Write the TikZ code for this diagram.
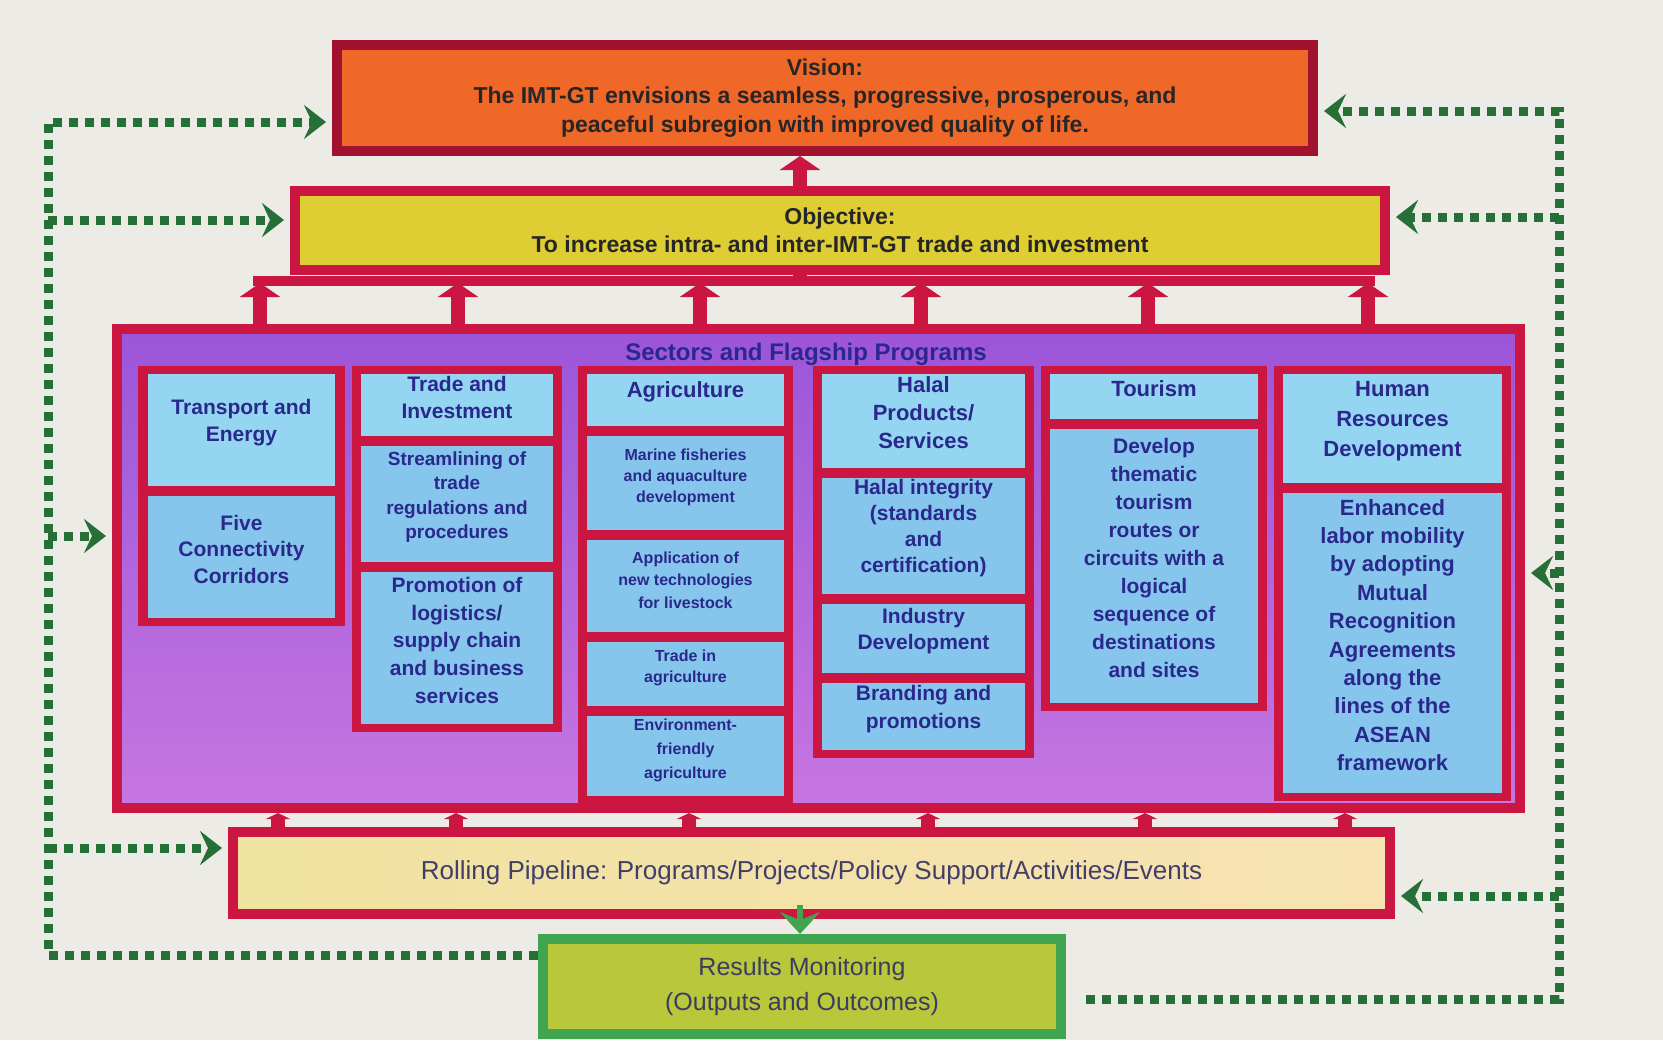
\documentclass[tikz,border=0pt]{standalone}
\usepackage{fontspec}
\setmainfont{Liberation Sans}
\usetikzlibrary{arrows.meta,fit}

\definecolor{crimson}{RGB}{204,22,66}
\definecolor{darkred}{RGB}{160,18,45}
\definecolor{visionorange}{RGB}{240,104,40}
\definecolor{objyellow}{RGB}{222,206,52}
\definecolor{cellblue}{RGB}{148,214,242}
\definecolor{itemblue}{RGB}{134,198,236}
\definecolor{navytext}{RGB}{42,40,140}
\definecolor{loopgreen}{RGB}{38,112,56}
\definecolor{resgreen}{RGB}{64,165,78}
\definecolor{resfill}{RGB}{184,200,58}
\definecolor{pipefill}{RGB}{240,226,160}
\definecolor{pipetext}{RGB}{75,74,124}
\definecolor{bgpaper}{RGB}{236,235,230}
\definecolor{sectortop}{RGB}{155,85,215}
\definecolor{sectorbot}{RGB}{198,118,226}

\begin{document}
\begin{tikzpicture}[x=0.5pt, y=-0.5pt,
    visionbox/.style={rectangle, draw=darkred, line width=5pt, fill=visionorange, minimum width=488pt, minimum height=53pt, align=center, text=black!85, font=\bfseries\fontsize{11.5}{14.3}\selectfont},
    objbox/.style={rectangle, draw=crimson, line width=5pt, fill=objyellow, minimum width=545pt, minimum height=39.5pt, align=center, text=black!85, font=\bfseries\fontsize{11.5}{13.8}\selectfont},
    sectorbox/.style={rectangle, draw=crimson, line width=5pt, top color=sectortop, bottom color=sectorbot, minimum width=701.5pt, minimum height=239.5pt},
    headcell/.style={rectangle, fill=cellblue, inner sep=0pt, align=center, text=navytext, font=\bfseries\fontsize{10.5}{13.3}\selectfont},
    itemcell/.style={rectangle, fill=itemblue, inner sep=0pt, align=center, text=navytext, font=\bfseries\fontsize{10.5}{13.8}\selectfont},
    smallcell/.style={itemcell, font=\bfseries\fontsize{8}{10.6}\selectfont},
    pipebox/.style={rectangle, draw=crimson, line width=5pt, left color=pipefill, right color=pipefill!80!orange!60!white, minimum width=578.5pt, minimum height=41pt, text=pipetext!85!black, font=\fontsize{13}{15}\selectfont},
    resultbox/.style={rectangle, draw=resgreen, line width=5pt, fill=resfill, minimum width=259pt, minimum height=47.5pt, align=center, text=pipetext!80!black, font=\fontsize{12.5}{17.5}\selectfont},
    redarrow/.style={draw=crimson, line width=7pt, -{Triangle[width=20pt,length=7pt]}},
    redbar/.style={draw=crimson, line width=5pt},
    downarrow/.style={draw=resgreen, line width=3pt, -{Stealth[width=20pt,length=11pt,inset=4pt]}, shorten <=-7pt},
    loopline/.style={draw=loopgreen, line width=4.5pt, dash pattern=on 4.5pt off 3.5pt, -{Stealth[length=11pt,width=17pt,inset=4pt]}, shorten >=3pt}
]

\path[use as bounding box, fill=bgpaper] (0,0) rectangle (1663,1040);

% Vision and objective
\node[visionbox] (vision) at (825,98) {Vision:\\The IMT-GT envisions a seamless, progressive, prosperous, and\\peaceful subregion with improved quality of life.};
\node[objbox] (objective) at (840,230.5) {Objective:\\To increase intra- and inter-IMT-GT trade and investment};

% Sectors frame
\node[sectorbox] (sectors) at (818.5,568.5) {};
\node[text=navytext, font=\bfseries\fontsize{12}{14}\selectfont] (sectitle) at (806,354) {Sectors and Flagship Programs};

% column frames
\foreach \xa/\xb/\yb in {138/345/626, 352/562/732, 578/793/804, 813/1034/758, 1041/1267/711, 1274/1511/801} {
    \fill[crimson] (\xa,366) rectangle (\xb,\yb);
}

% Transport
\node[headcell, fit={(148,374) (335,486)}] (c11) {Transport and\\Energy};
\node[itemcell, font=\bfseries\fontsize{10.5}{13.3}\selectfont, fit={(148,496) (335,618)}] (c12) {Five\\Connectivity\\Corridors};

% Trade
\node[headcell, font=\bfseries\fontsize{10.5}{13.5}\selectfont, fit={(361,374) (553,436)}] (c21) {Trade and\\Investment};
\node[itemcell, font=\bfseries\fontsize{9.5}{12.2}\selectfont, fit={(361,446) (553,562)}] (c22) {Streamlining of\\trade\\regulations and\\procedures};
\node[itemcell, fit={(361,572) (553,724)}] (c23) {Promotion of\\logistics/\\supply chain\\and business\\services};

% Agriculture
\node[headcell, font=\bfseries\fontsize{11}{13}\selectfont, fit={(587,374) (784,426)}] (c31) {Agriculture};
\node[smallcell, fit={(587,436) (784,530)}] (c32) {Marine fisheries\\and aquaculture\\development};
\node[smallcell, font=\bfseries\fontsize{8}{11.4}\selectfont, fit={(587,540) (784,632)}] (c33) {Application of\\new technologies\\for livestock};
\node[smallcell, fit={(587,642) (784,706)}] (c34) {Trade in\\agriculture};
\node[smallcell, font=\bfseries\fontsize{8}{12}\selectfont, fit={(587,716) (784,796)}] (c35) {Environment-\\friendly\\agriculture};

% Halal
\node[headcell, font=\bfseries\fontsize{11}{14}\selectfont, fit={(822,374) (1025,468)}] (c41) {Halal\\Products/\\Services};
\node[itemcell, font=\bfseries\fontsize{10.5}{13}\selectfont, fit={(822,478) (1025,594)}] (c42) {Halal integrity\\(standards\\and\\certification)};
\node[itemcell, font=\bfseries\fontsize{10.5}{13.2}\selectfont, fit={(822,604) (1025,673)}] (c43) {Industry\\Development};
\node[itemcell, font=\bfseries\fontsize{10.5}{13.8}\selectfont, fit={(822,683) (1025,750)}] (c44) {Branding and\\promotions};

% Tourism
\node[headcell, font=\bfseries\fontsize{11}{13}\selectfont, fit={(1050,374) (1258,419)}] (c51) {Tourism};
\node[itemcell, font=\bfseries\fontsize{10.5}{14}\selectfont, fit={(1050,429) (1258,703)}] (c52) {Develop\\thematic\\tourism\\routes or\\circuits with a\\logical\\sequence of\\destinations\\and sites};

% Human resources
\node[headcell, font=\bfseries\fontsize{11}{15}\selectfont, fit={(1283,374) (1502,483)}] (c61) {Human\\Resources\\Development};
\node[itemcell, font=\bfseries\fontsize{11}{14.2}\selectfont, fit={(1283,493) (1502,793)}] (c62) {Enhanced\\labor mobility\\by adopting\\Mutual\\Recognition\\Agreements\\along the\\lines of the\\ASEAN\\framework};

% Pipeline and results
\node[pipebox] (pipe) at (811.5,873) {Rolling Pipeline: Programs/Projects/Policy Support/Activities/Events};
\node[resultbox] (results) at (802,986.5) {Results Monitoring\\(Outputs and Outcomes)};

% red connectors at top
\coordinate (barL) at (253,281);
\coordinate (barR) at (1375,281);
\coordinate (barmid) at (800,281);
\draw[redbar] (barL) -- (barR);
\draw[crimson, line width=7pt] (barmid) -- (barmid |- objective.south);
\draw[redarrow] (objective.north -| barmid) -- (vision.south -| barmid);
\foreach \x [count=\i] in {260,458,700,921,1148,1368} {
    \coordinate (u\i) at (\x,283);
    \draw[redarrow] (sectors.north -| u\i) -- (u\i);
}

% red connectors at bottom
\foreach \x [count=\i] in {278,456,689,928,1145,1345} {
    \coordinate (d\i) at (\x,832);
    \draw[redarrow, -{Triangle[width=12pt,length=3pt]}] (pipe.north -| d\i) -- (sectors.south -| d\i);
}
\draw[downarrow] (pipe.south -| barmid) -- (results.north -| barmid);

% feedback loop, left
\coordinate (lb) at (48,955);
\coordinate (lt) at (48,122);
\coordinate (lo) at (48,220);
\coordinate (ls) at (48,536);
\coordinate (lp) at (48,848);
\draw[loopline] (results.west |- lb) -- (lb) -- (lt) -- (vision.west |- lt);
\draw[loopline] (lo) -- (lo -| objective.west);
\draw[loopline] (ls) -- (ls -| sectors.west);
\draw[loopline] (lp) -- (lp -| pipe.west);

% feedback loop, right
\coordinate (rb) at (1559,999);
\coordinate (rt) at (1559,111);
\coordinate (ro) at (1559,217);
\coordinate (rs) at (1559,573);
\coordinate (rp) at (1559,896);
\draw[loopline, shorten <=10pt] (results.east |- rb) -- (rb) -- (rt) -- (rt -| vision.east);
\draw[loopline] (ro) -- (ro -| objective.east);
\draw[loopline] (rs) -- (rs -| sectors.east);
\draw[loopline] (rp) -- (rp -| pipe.east);

\end{tikzpicture}
\end{document}
